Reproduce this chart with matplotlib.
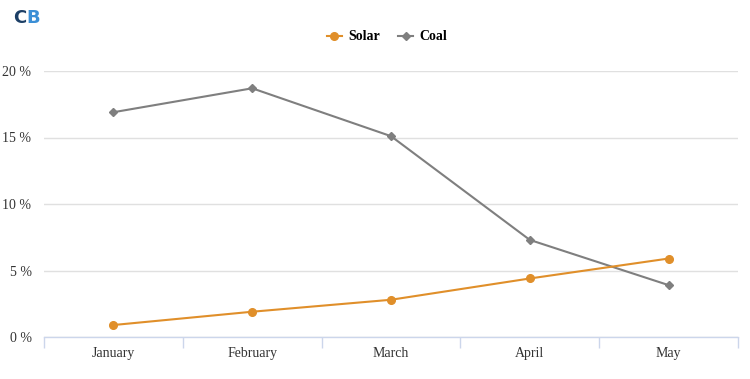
import matplotlib
matplotlib.use("Agg")
import matplotlib.pyplot as plt
import numpy as np
from matplotlib.lines import Line2D

months = ["January", "February", "March", "April", "May"]
solar = [0.9, 1.9, 2.8, 4.4, 5.9]
coal = [16.9, 18.7, 15.1, 7.3, 3.9]
yticks = [0, 5, 10, 15, 20]
ytick_labels = ["0 %", "5 %", "10 %", "15 %", "20 %"]

plt.rcParams['font.family'] = ['Liberation Serif', 'DejaVu Serif']

fig = plt.figure(figsize=(7.5, 3.79), dpi=100)
ax = fig.add_axes([44/750, 1-337/379, (738-44)/750, (337-71)/379])

x = np.arange(len(months))
solar_c = "#e08f2a"
coal_c = "#7f7f7f"
ax.plot(x, coal, color=coal_c, lw=1.5, marker="D", ms=4, zorder=3)
ax.plot(x, solar, color=solar_c, lw=1.5, marker="o", ms=5.5, zorder=4)

ax.set_xlim(-0.5, 4.5)
ax.set_ylim(0, 20)
ax.set_yticks(yticks)
ax.set_yticklabels(ytick_labels, fontsize=10, color="#333333")
ax.yaxis.grid(True, color="#e0e0e0", lw=1)
ax.set_axisbelow(True)
ax.tick_params(axis="y", length=0, pad=9)

ax.set_xticks(x)
ax.set_xticklabels(months, fontsize=10, color="#333333")
ax.tick_params(axis="x", which="major", length=0, pad=7)
ax.set_xticks(np.arange(-0.5, 5.0, 1.0), minor=True)
ax.tick_params(axis="x", which="minor", length=8, color="#ccd6eb", width=1)

for s in ["top", "right", "left"]:
    ax.spines[s].set_visible(False)
ax.spines["bottom"].set_color("#ccd6eb")
ax.spines["bottom"].set_linewidth(1)

handles = [
    Line2D([0], [0], color=solar_c, lw=1.5, marker="o", ms=5.5),
    Line2D([0], [0], color=coal_c, lw=1.5, marker="D", ms=4),
]
fig.legend(handles, ["Solar", "Coal"], loc="center", bbox_to_anchor=(387/750, 1-37/379),
           ncol=2, frameon=False, prop={"weight": "bold", "size": 10},
           handlelength=1.1, columnspacing=1.3, handletextpad=0.45)

fig.text(13/750, 1-18/379, "C", fontsize=13, fontweight="bold", color="#1c3f66",
         family="DejaVu Sans", va="center", ha="left")
fig.text(26/750, 1-18/379, "B", fontsize=13, fontweight="bold", color="#3b8fd6",
         family="DejaVu Sans", va="center", ha="left")

fig.savefig("out.png", dpi=100)
